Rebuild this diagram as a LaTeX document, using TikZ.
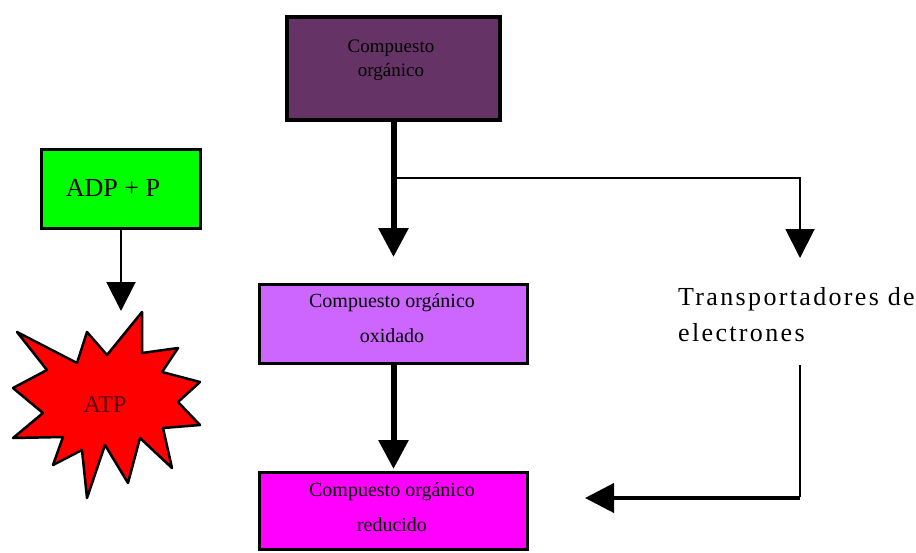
\documentclass[tikz,border=0pt]{standalone}
\usepackage{fontspec}
\setmainfont{Liberation Serif}
\newfontfamily\spacedserif[LetterSpace=9]{Liberation Serif}
\usetikzlibrary{arrows.meta}
\definecolor{plum}{HTML}{663366}
\definecolor{lime}{HTML}{00FF00}
\definecolor{lilac}{HTML}{CC66FF}
\definecolor{fuchsia}{HTML}{FF00FF}
\definecolor{burst}{HTML}{FF0000}
\definecolor{atptext}{HTML}{5A0000}
\begin{document}
\begin{tikzpicture}[x=1pt,y=-1pt,
  box/.style={draw=black, rectangle, inner sep=0pt},
  boxtext/.style={align=center, inner sep=0pt, font=\fontsize{20}{35}\selectfont},
  head/.style={-{Triangle[width=29pt,length=29pt]}},
  heavy/.style={line width=6pt},
  medium/.style={line width=4pt},
  light/.style={line width=2pt}]
\useasboundingbox (0,0) rectangle (916,552);

% boxes
\node[box, line width=4pt, fill=plum, minimum width=213pt, minimum height=103pt] (org) at (393.5,68.5) {};
\node[boxtext, font=\fontsize{19}{24}\selectfont] (orgT) at (391,60) {Compuesto\\orgánico};

\node[box, line width=3pt, fill=lime, minimum width=159pt, minimum height=79pt] (adp) at (121,189) {};
\node[inner sep=0pt, font=\fontsize{26}{30}\selectfont] (adpT) at (113,188) {ADP + P};

\node[box, line width=3pt, fill=lilac, minimum width=268pt, minimum height=79pt] (oxi) at (393.5,324) {};
\node[boxtext] (oxiT) at (392,318) {Compuesto orgánico\\oxidado};

\node[box, line width=3pt, fill=fuchsia, minimum width=268pt, minimum height=77pt] (red) at (393.5,511) {};
\node[boxtext] (redT) at (392,507) {Compuesto orgánico\\reducido};

% ATP burst
\draw[fill=burst, line width=2.5pt, line join=round]
  (17,332) -- (77,363) -- (87,332) -- (107,355) -- (142,312) -- (142,353)
  -- (178,348) -- (162,372) -- (200,382) -- (178,402) -- (200,425)
  -- (163,428) -- (172,468) -- (140,438) -- (128,483) -- (105,445)
  -- (87,498) -- (82,450) -- (53,465) -- (63,437) -- (13,438)
  -- (43,413) -- (13,388) -- (47,370) -- cycle;
\node[inner sep=0pt, text=atptext, font=\fontsize{24}{28}\selectfont] (atp) at (105,405) {ATP};
\coordinate (atpin) at (121,311);

% electron carriers
\node[anchor=west, align=left, inner sep=0pt, font=\spacedserif\fontsize{26}{36}\selectfont] (tr) at (678,315)
  {Transportadores de\\electrones};
\coordinate (trin) at (800,258);
\coordinate (trout) at (800,365);
\coordinate (trcorner) at (800,498);
\coordinate (redin) at (585,498);
\coordinate (split) at (393.5,178);

% connectors
\draw[heavy, head] (org.south) -- ([yshift=26pt]oxi.north);
\draw[light, head] (split) -| (trin);
\draw[heavy, head] (oxi.south) -- ([yshift=2pt]red.north);
\draw[light, head] (adp.south) -- (atpin);
\draw[light] (trout) -- ([yshift=1pt]trcorner);
\draw[medium, head] (trcorner) -- (redin);
\end{tikzpicture}
\end{document}
